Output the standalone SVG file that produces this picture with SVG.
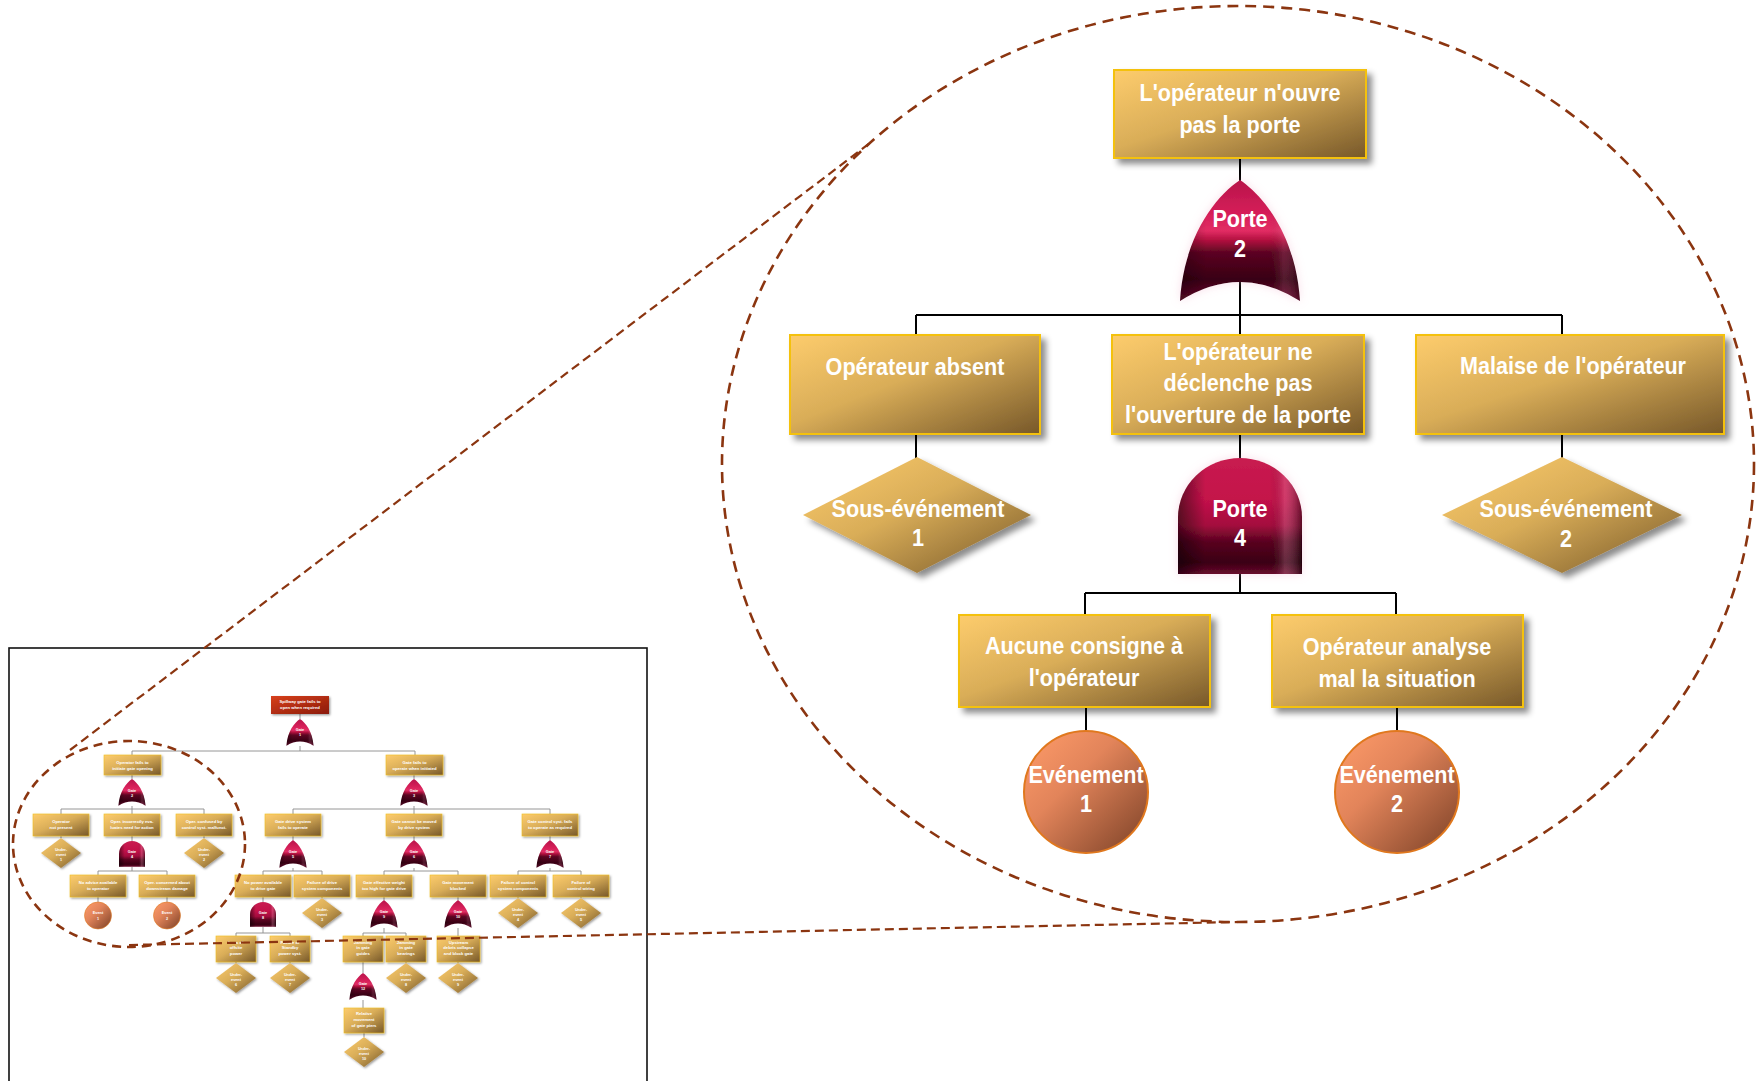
<svg xmlns="http://www.w3.org/2000/svg" xmlns:xlink="http://www.w3.org/1999/xlink" width="1758" height="1081" viewBox="0 0 1758 1081">
  <style>
    .lbl { font-family: "Liberation Sans", Arial, sans-serif; font-weight: bold; font-size: 24px; fill: #ffffff; text-anchor: middle; }
    .sm { font-family: "Liberation Sans", Arial, sans-serif; font-weight: bold; font-size: 4.2px; fill: #ffffff; text-anchor: middle; }
    .sd { font-family: "Liberation Sans", Arial, sans-serif; font-weight: bold; font-size: 3.8px; fill: #ffffff; text-anchor: middle; }
    .box { fill: url(#gold); stroke: #f4c10e; stroke-width: 2; filter: url(#shadow); }
    .dia { fill: url(#gold); filter: url(#shadow); }
    .evt { fill: url(#evtFill); stroke: #e0781e; stroke-width: 2; }
    .sbox { fill: url(#gold); stroke: #f0c020; stroke-width: 0.6; filter: url(#sshadow); }
    .sdia { fill: url(#gold); filter: url(#sshadow); }
    .sevt { fill: url(#evtFill); stroke: #e0781e; stroke-width: 0.6; }
    .wire { stroke: #000; stroke-width: 2; fill: none; }
    .swire { stroke: #8a8a8a; stroke-width: 0.9; fill: none; }
    .zoom { stroke: #8b3510; fill: none; }
  </style>
  <defs>
    <linearGradient id="gold" x1="0" y1="0" x2="1" y2="1">
      <stop offset="0" stop-color="#fdcc6c"/>
      <stop offset="0.45" stop-color="#d9ad58"/>
      <stop offset="1" stop-color="#775829"/>
    </linearGradient>
    <linearGradient id="redBox" x1="0" y1="0" x2="1" y2="1">
      <stop offset="0" stop-color="#d8401c"/>
      <stop offset="1" stop-color="#8a1a08"/>
    </linearGradient>
    <linearGradient id="evtFill" x1="0" y1="0" x2="1" y2="1">
      <stop offset="0" stop-color="#ff9c6a"/>
      <stop offset="0.4" stop-color="#e2845a"/>
      <stop offset="1" stop-color="#7a4026"/>
    </linearGradient>
    <linearGradient id="orFill" x1="0" y1="0" x2="0" y2="1">
      <stop offset="0" stop-color="#b8134a"/>
      <stop offset="0.3" stop-color="#d8205a"/>
      <stop offset="0.42" stop-color="#e22d64"/>
      <stop offset="0.5" stop-color="#b0103e"/>
      <stop offset="0.6" stop-color="#5c0522"/>
      <stop offset="0.82" stop-color="#380013"/>
      <stop offset="1" stop-color="#6e0c30"/>
    </linearGradient>
    <linearGradient id="andFill" x1="0" y1="0" x2="0" y2="1">
      <stop offset="0" stop-color="#c81c50"/>
      <stop offset="0.35" stop-color="#c4124a"/>
      <stop offset="0.58" stop-color="#a40c3e"/>
      <stop offset="0.72" stop-color="#5a0420"/>
      <stop offset="0.9" stop-color="#3a0013"/>
      <stop offset="1" stop-color="#6a0a2c"/>
    </linearGradient>
    <linearGradient id="sideShade" x1="0" y1="0" x2="1" y2="0">
      <stop offset="0" stop-color="#000" stop-opacity="0.5"/>
      <stop offset="0.22" stop-color="#000" stop-opacity="0"/>
      <stop offset="0.74" stop-color="#000" stop-opacity="0"/>
      <stop offset="0.86" stop-color="#ffc8dc" stop-opacity="0.22"/>
      <stop offset="1" stop-color="#000" stop-opacity="0.45"/>
    </linearGradient>
    <filter id="shadow" x="-10%" y="-10%" width="125%" height="135%">
      <feDropShadow dx="5" dy="5" stdDeviation="3" flood-color="#000" flood-opacity="0.45"/>
    </filter>
    <filter id="sshadow" x="-10%" y="-10%" width="130%" height="140%">
      <feDropShadow dx="1.2" dy="1.2" stdDeviation="0.8" flood-color="#000" flood-opacity="0.4"/>
    </filter>
    <filter id="glow" x="-20%" y="-20%" width="140%" height="140%">
      <feDropShadow dx="0" dy="0" stdDeviation="5" flood-color="#f0a0c0" flood-opacity="0.35"/>
    </filter>
    <!-- OR gate: pointed arch with concave base -->
    <symbol id="gOr" viewBox="0 0 124 122" preserveAspectRatio="none" overflow="visible">
      <path d="M62,0 C38,16 6,56 2,121 Q62,83 122,121 C118,56 86,16 62,0 Z" fill="url(#orFill)"/>
      <path d="M62,0 C38,16 6,56 2,121 Q62,83 122,121 C118,56 86,16 62,0 Z" fill="url(#sideShade)" opacity="0.6"/>
    </symbol>
    <!-- AND gate: dome on a flat base -->
    <symbol id="gAnd" viewBox="0 0 124 118" preserveAspectRatio="none" overflow="visible">
      <path d="M0,117 L0,60 A62,60 0 0 1 124,60 L124,117 Z" fill="url(#andFill)"/>
      <path d="M0,117 L0,60 A62,60 0 0 1 124,60 L124,117 Z" fill="url(#sideShade)"/>
    </symbol>
  </defs>

  <rect width="1758" height="1081" fill="#ffffff"/>

  <!-- ===== overview fault tree ===== -->
  <rect x="9" y="648" width="638" height="460" fill="none" stroke="#111" stroke-width="1.6"/>

  <g id="overview-connectors">
    <path class="swire" d="M300,714V719 M300,746V751 M132,751H415 M132,751V755 M415,751V755"/>
    <path class="swire" d="M132,775V779 M132,806V809 M61,809H204 M61,809V814 M132,809V814 M204,809V814"/>
    <path class="swire" d="M414,775V779 M414,806V809 M293,809H550 M293,809V814 M414,809V814 M550,809V814"/>
    <path class="swire" d="M61,836V838 M132,836V841 M204,836V838 M293,836V840 M414,836V840 M550,836V840"/>
    <path class="swire" d="M132,867V871 M98,871H167 M98,871V875 M167,871V875"/>
    <path class="swire" d="M293,868V871 M263,871H322 M263,871V875 M322,871V875"/>
    <path class="swire" d="M414,868V871 M384,871H458 M384,871V875 M458,871V875"/>
    <path class="swire" d="M550,868V871 M518,871H581 M518,871V875 M581,871V875"/>
    <path class="swire" d="M98,897V902 M167,897V902 M263,897V902 M322,897V898 M384,897V900 M458,897V900 M518,897V898 M581,897V898"/>
    <path class="swire" d="M263,927V933 M236,933H290 M236,933V936 M290,933V936"/>
    <path class="swire" d="M384,928V933 M363,933H406 M363,933V936 M406,933V936 M458,928V936"/>
    <path class="swire" d="M236,962V963 M290,962V963 M363,962V973 M406,962V963 M458,962V963 M363,1000V1008 M364,1033V1037"/>
  </g>

  <g id="overview-nodes">
    <g id="ov-top">
      <rect x="271" y="696" width="58" height="18" fill="url(#redBox)" filter="url(#sshadow)"/>
      <text class="sm"><tspan x="300" y="702.5">Spillway gate fails to</tspan><tspan x="300" y="708.5">open when required</tspan></text>
    </g>
    <g id="ov-gate1"><use href="#gOr" x="286" y="719" width="28" height="27"/><text class="sd"><tspan x="300" y="731">Gate</tspan><tspan x="300" y="736">1</tspan></text></g>

    <g id="ov-operator"><rect class="sbox" x="104" y="755" width="57" height="20"/><text class="sm"><tspan x="132.5" y="763.5">Operator fails to</tspan><tspan x="132.5" y="769.5">initiate gate opening</tspan></text></g>
    <g id="ov-gatefails"><rect class="sbox" x="386" y="755" width="57" height="20"/><text class="sm"><tspan x="414.5" y="763.5">Gate fails to</tspan><tspan x="414.5" y="769.5">operate when initiated</tspan></text></g>
    <g id="ov-gate2"><use href="#gOr" x="118" y="779" width="28" height="27"/><text class="sd"><tspan x="132" y="791.5">Gate</tspan><tspan x="132" y="796.5">2</tspan></text></g>
    <g id="ov-gate3"><use href="#gOr" x="400" y="779" width="28" height="27"/><text class="sd"><tspan x="414" y="791.5">Gate</tspan><tspan x="414" y="796.5">3</tspan></text></g>

    <g id="ov-notpresent"><rect class="sbox" x="33" y="814" width="56" height="22"/><text class="sm"><tspan x="61" y="822.5">Operator</tspan><tspan x="61" y="828.5">not present</tspan></text></g>
    <g id="ov-evaluates"><rect class="sbox" x="104" y="814" width="56" height="22"/><text class="sm"><tspan x="132" y="822.5">Oper. incorrectly eva-</tspan><tspan x="132" y="828.5">luates need for action</tspan></text></g>
    <g id="ov-confused"><rect class="sbox" x="176" y="814" width="56" height="22"/><text class="sm"><tspan x="204" y="822.5">Oper. confused by</tspan><tspan x="204" y="828.5">control syst. malfunct.</tspan></text></g>
    <g id="ov-drivefails"><rect class="sbox" x="265" y="814" width="56" height="22"/><text class="sm"><tspan x="293" y="822.5">Gate drive system</tspan><tspan x="293" y="828.5">fails to operate</tspan></text></g>
    <g id="ov-cannotmove"><rect class="sbox" x="386" y="814" width="56" height="22"/><text class="sm"><tspan x="414" y="822.5">Gate cannot be moved</tspan><tspan x="414" y="828.5">by drive system</tspan></text></g>
    <g id="ov-controlfails"><rect class="sbox" x="522" y="814" width="56" height="22"/><text class="sm"><tspan x="550" y="822.5">Gate control syst. fails</tspan><tspan x="550" y="828.5">to operate as required</tspan></text></g>

    <g id="ov-under1"><polygon class="sdia" points="61,838 81,853 61,868 41,853"/><text class="sd"><tspan x="61" y="850.5">Under-</tspan><tspan x="61" y="855.5">event</tspan><tspan x="61" y="860.5">1</tspan></text></g>
    <g id="ov-under2"><polygon class="sdia" points="204,838 224,853 204,868 184,853"/><text class="sd"><tspan x="204" y="850.5">Under-</tspan><tspan x="204" y="855.5">event</tspan><tspan x="204" y="860.5">2</tspan></text></g>
    <g id="ov-gate4"><use href="#gAnd" x="119" y="841" width="26" height="26"/><text class="sd"><tspan x="132" y="853">Gate</tspan><tspan x="132" y="858">4</tspan></text></g>
    <g id="ov-gate5"><use href="#gOr" x="279" y="840" width="28" height="28"/><text class="sd"><tspan x="293" y="852.5">Gate</tspan><tspan x="293" y="857.5">5</tspan></text></g>
    <g id="ov-gate6"><use href="#gOr" x="400" y="840" width="28" height="28"/><text class="sd"><tspan x="414" y="852.5">Gate</tspan><tspan x="414" y="857.5">6</tspan></text></g>
    <g id="ov-gate7"><use href="#gOr" x="536" y="840" width="28" height="28"/><text class="sd"><tspan x="550" y="852.5">Gate</tspan><tspan x="550" y="857.5">7</tspan></text></g>

    <g id="ov-noadvice"><rect class="sbox" x="70" y="875" width="56" height="22"/><text class="sm"><tspan x="98" y="883.5">No advice available</tspan><tspan x="98" y="889.5">to operator</tspan></text></g>
    <g id="ov-concerned"><rect class="sbox" x="139" y="875" width="56" height="22"/><text class="sm"><tspan x="167" y="883.5">Oper. concerned about</tspan><tspan x="167" y="889.5">downstream damage</tspan></text></g>
    <g id="ov-nopower"><rect class="sbox" x="235" y="875" width="56" height="22"/><text class="sm"><tspan x="263" y="883.5">No power available</tspan><tspan x="263" y="889.5">to drive gate</tspan></text></g>
    <g id="ov-drivecomp"><rect class="sbox" x="294" y="875" width="56" height="22"/><text class="sm"><tspan x="322" y="883.5">Failure of drive</tspan><tspan x="322" y="889.5">system components</tspan></text></g>
    <g id="ov-weight"><rect class="sbox" x="356" y="875" width="56" height="22"/><text class="sm"><tspan x="384" y="883.5">Gate effective weight</tspan><tspan x="384" y="889.5">too high for gate drive</tspan></text></g>
    <g id="ov-blocked"><rect class="sbox" x="430" y="875" width="56" height="22"/><text class="sm"><tspan x="458" y="883.5">Gate movement</tspan><tspan x="458" y="889.5">blocked</tspan></text></g>
    <g id="ov-controlcomp"><rect class="sbox" x="490" y="875" width="56" height="22"/><text class="sm"><tspan x="518" y="883.5">Failure of control</tspan><tspan x="518" y="889.5">system components</tspan></text></g>
    <g id="ov-wiring"><rect class="sbox" x="553" y="875" width="56" height="22"/><text class="sm"><tspan x="581" y="883.5">Failure of</tspan><tspan x="581" y="889.5">control wiring</tspan></text></g>

    <g id="ov-event1"><ellipse class="sevt" cx="98" cy="915.5" rx="13.5" ry="13.5"/><text class="sd"><tspan x="98" y="913.5">Event</tspan><tspan x="98" y="919.5">1</tspan></text></g>
    <g id="ov-event2"><ellipse class="sevt" cx="167" cy="915.5" rx="13.5" ry="13.5"/><text class="sd"><tspan x="167" y="913.5">Event</tspan><tspan x="167" y="919.5">2</tspan></text></g>
    <g id="ov-gate8"><use href="#gAnd" x="250" y="902" width="26" height="25"/><text class="sd"><tspan x="263" y="913.5">Gate</tspan><tspan x="263" y="918.5">8</tspan></text></g>
    <g id="ov-under3"><polygon class="sdia" points="322,898 342,913 322,928 302,913"/><text class="sd"><tspan x="322" y="910.5">Under-</tspan><tspan x="322" y="915.5">event</tspan><tspan x="322" y="920.5">3</tspan></text></g>
    <g id="ov-gate9"><use href="#gOr" x="370" y="900" width="28" height="28"/><text class="sd"><tspan x="384" y="912.5">Gate</tspan><tspan x="384" y="917.5">9</tspan></text></g>
    <g id="ov-gate10"><use href="#gOr" x="444" y="900" width="28" height="28"/><text class="sd"><tspan x="458" y="912.5">Gate</tspan><tspan x="458" y="917.5">10</tspan></text></g>
    <g id="ov-under4"><polygon class="sdia" points="518,898 538,913 518,928 498,913"/><text class="sd"><tspan x="518" y="910.5">Under-</tspan><tspan x="518" y="915.5">event</tspan><tspan x="518" y="920.5">4</tspan></text></g>
    <g id="ov-under5"><polygon class="sdia" points="581,898 601,913 581,928 561,913"/><text class="sd"><tspan x="581" y="910.5">Under-</tspan><tspan x="581" y="915.5">event</tspan><tspan x="581" y="920.5">5</tspan></text></g>

    <g id="ov-offsite"><rect class="sbox" x="216" y="936" width="40" height="26"/><text class="sm"><tspan x="236" y="943.5">Loss of</tspan><tspan x="236" y="949">offsite</tspan><tspan x="236" y="954.5">power</tspan></text></g>
    <g id="ov-standby"><rect class="sbox" x="270" y="936" width="40" height="26"/><text class="sm"><tspan x="290" y="943.5">Failure of</tspan><tspan x="290" y="949">Standby</tspan><tspan x="290" y="954.5">power syst.</tspan></text></g>
    <g id="ov-guides"><rect class="sbox" x="343" y="936" width="40" height="26"/><text class="sm"><tspan x="363" y="943.5">Jamming</tspan><tspan x="363" y="949">in gate</tspan><tspan x="363" y="954.5">guides</tspan></text></g>
    <g id="ov-bearings"><rect class="sbox" x="386" y="936" width="40" height="26"/><text class="sm"><tspan x="406" y="943.5">Jamming</tspan><tspan x="406" y="949">in gate</tspan><tspan x="406" y="954.5">bearings</tspan></text></g>
    <g id="ov-debris"><rect class="sbox" x="437" y="936" width="43" height="26"/><text class="sm"><tspan x="458.5" y="943.5">Upstream</tspan><tspan x="458.5" y="949">debris collapse</tspan><tspan x="458.5" y="954.5">and block gate</tspan></text></g>

    <g id="ov-under6"><polygon class="sdia" points="236,963 256,978 236,993 216,978"/><text class="sd"><tspan x="236" y="975.5">Under-</tspan><tspan x="236" y="980.5">event</tspan><tspan x="236" y="985.5">6</tspan></text></g>
    <g id="ov-under7"><polygon class="sdia" points="290,963 310,978 290,993 270,978"/><text class="sd"><tspan x="290" y="975.5">Under-</tspan><tspan x="290" y="980.5">event</tspan><tspan x="290" y="985.5">7</tspan></text></g>
    <g id="ov-gate12"><use href="#gOr" x="349" y="973" width="28" height="27"/><text class="sd"><tspan x="363" y="985">Gate</tspan><tspan x="363" y="990">12</tspan></text></g>
    <g id="ov-under8"><polygon class="sdia" points="406,963 426,978 406,993 386,978"/><text class="sd"><tspan x="406" y="975.5">Under-</tspan><tspan x="406" y="980.5">event</tspan><tspan x="406" y="985.5">8</tspan></text></g>
    <g id="ov-under9"><polygon class="sdia" points="458,963 478,978 458,993 438,978"/><text class="sd"><tspan x="458" y="975.5">Under-</tspan><tspan x="458" y="980.5">event</tspan><tspan x="458" y="985.5">9</tspan></text></g>

    <g id="ov-piers"><rect class="sbox" x="344" y="1008" width="40" height="25"/><text class="sm"><tspan x="364" y="1014.5">Relative</tspan><tspan x="364" y="1020.5">movement</tspan><tspan x="364" y="1026.5">of gate piers</tspan></text></g>
    <g id="ov-under10"><polygon class="sdia" points="364,1037 384,1052 364,1067 344,1052"/><text class="sd"><tspan x="364" y="1049.5">Under-</tspan><tspan x="364" y="1054.5">event</tspan><tspan x="364" y="1059.5">10</tspan></text></g>
  </g>

  <!-- ===== enlarged branch: connectors ===== -->
  <g id="connectors">
    <path class="wire" d="M1240,158V181 M1240,280V315 M916,315H1562 M916,315V335 M1240,315V335 M1562,315V335"/>
    <path class="wire" d="M916,434V458 M1240,434V460 M1562,434V458"/>
    <path class="wire" d="M1240,574V593 M1085,593H1396 M1085,593V615 M1396,593V615"/>
    <path class="wire" d="M1086,707V732 M1397,707V732"/>
  </g>

  <!-- ===== enlarged branch: nodes ===== -->
  <g id="n-top">
    <rect class="box" x="1114" y="70" width="252" height="88"/>
    <text class="lbl" transform="translate(1240 0) scale(0.9 1)"><tspan x="0" y="101">L'opérateur n'ouvre</tspan><tspan x="0" y="133">pas la porte</tspan></text>
  </g>
  <g id="n-porte2">
    <use href="#gOr" x="1178" y="180" width="124" height="122" filter="url(#glow)"/>
    <text class="lbl" transform="translate(1240 0) scale(0.9 1)"><tspan x="0" y="227">Porte</tspan><tspan x="0" y="257">2</tspan></text>
  </g>
  <g id="n-absent">
    <rect class="box" x="790" y="335" width="250" height="99"/>
    <text class="lbl" transform="translate(915 375) scale(0.9 1)">Opérateur absent</text>
  </g>
  <g id="n-declenche">
    <rect class="box" x="1112" y="335" width="252" height="99"/>
    <text class="lbl" transform="translate(1238 0) scale(0.9 1)"><tspan x="0" y="360">L'opérateur ne</tspan><tspan x="0" y="391">déclenche pas</tspan><tspan x="0" y="423">l'ouverture de la porte</tspan></text>
  </g>
  <g id="n-malaise">
    <rect class="box" x="1416" y="335" width="308" height="99"/>
    <text class="lbl" transform="translate(1573 374) scale(0.9 1)">Malaise de l'opérateur</text>
  </g>
  <g id="n-sous1">
    <polygon class="dia" points="917,457 1031,515 917,573 803,515"/>
    <text class="lbl" transform="translate(918 0) scale(0.9 1)"><tspan x="0" y="517">Sous-événement</tspan><tspan x="0" y="546">1</tspan></text>
  </g>
  <g id="n-porte4">
    <use href="#gAnd" x="1178" y="458" width="124" height="117" filter="url(#glow)"/>
    <text class="lbl" transform="translate(1240 0) scale(0.9 1)"><tspan x="0" y="517">Porte</tspan><tspan x="0" y="546">4</tspan></text>
  </g>
  <g id="n-sous2">
    <polygon class="dia" points="1562,457 1682,515 1562,573 1442,515"/>
    <text class="lbl" transform="translate(1566 0) scale(0.9 1)"><tspan x="0" y="517">Sous-événement</tspan><tspan x="0" y="547">2</tspan></text>
  </g>
  <g id="n-consigne">
    <rect class="box" x="959" y="615" width="251" height="92"/>
    <text class="lbl" transform="translate(1084 0) scale(0.9 1)"><tspan x="0" y="654">Aucune consigne à</tspan><tspan x="0" y="686">l'opérateur</tspan></text>
  </g>
  <g id="n-analyse">
    <rect class="box" x="1272" y="615" width="251" height="92"/>
    <text class="lbl" transform="translate(1397 0) scale(0.9 1)"><tspan x="0" y="655">Opérateur analyse</tspan><tspan x="0" y="687">mal la situation</tspan></text>
  </g>
  <g id="n-event1">
    <ellipse class="evt" cx="1086" cy="792" rx="62" ry="61"/>
    <text class="lbl" transform="translate(1086 0) scale(0.9 1)"><tspan x="0" y="783">Evénement</tspan><tspan x="0" y="812">1</tspan></text>
  </g>
  <g id="n-event2">
    <ellipse class="evt" cx="1397" cy="792" rx="62" ry="61"/>
    <text class="lbl" transform="translate(1397 0) scale(0.9 1)"><tspan x="0" y="783">Evénement</tspan><tspan x="0" y="812">2</tspan></text>
  </g>

  <!-- ===== magnifier outlines ===== -->
  <g id="zoom-marks">
    <ellipse class="zoom" cx="129" cy="844" rx="116" ry="103" stroke-width="2.6" stroke-dasharray="9 6"/>
    <line class="zoom" x1="70" y1="750" x2="870" y2="143" stroke-width="2.2" stroke-dasharray="9 5"/>
    <line class="zoom" x1="129" y1="945" x2="1238" y2="922" stroke-width="2.2" stroke-dasharray="9 5"/>
    <ellipse class="zoom" cx="1238" cy="464" rx="516" ry="458" stroke-width="2.6" stroke-dasharray="11 7"/>
  </g>
</svg>
